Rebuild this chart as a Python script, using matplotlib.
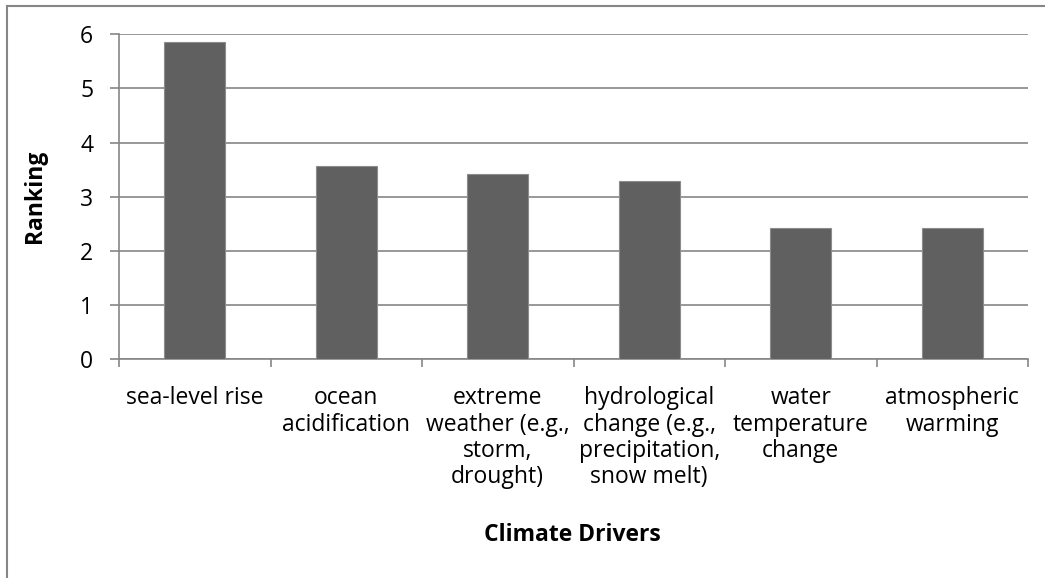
import matplotlib
matplotlib.use("Agg")
import matplotlib.pyplot as plt
from matplotlib.lines import Line2D

categories = [
    "sea-level rise",
    "ocean\nacidification",
    "extreme\nweather (e.g.,\nstorm,\ndrought)",
    "hydrological\nchange (e.g.,\nprecipitation,\nsnow melt)",
    "water\ntemperature\nchange",
    "atmospheric\nwarming",
]
values = [5.86, 3.57, 3.43, 3.29, 2.43, 2.43]
yticks = [0, 1, 2, 3, 4, 5, 6]

plt.rcParams['font.family'] = ['Open Sans', 'DejaVu Sans']

W, H = 1045, 578
FS = 16.5
fig = plt.figure(figsize=(W / 100, H / 100), dpi=100)
ax = fig.add_axes([119 / W, 1 - 359.3 / H, (1028 - 119) / W, (359.3 - 34.3) / H])

grey = "#868686"
x = list(range(len(categories)))
ax.bar(x, values, width=0.4, color="#606060", edgecolor="#8c8c8c", linewidth=0.8, zorder=3)

ax.set_xlim(-0.5, len(categories) - 0.5)
ax.set_ylim(0, 6)
ax.set_yticks(yticks)
ax.set_yticklabels([str(t) for t in yticks], fontsize=FS, color="#000000")
ax.yaxis.grid(True, color=grey, linewidth=1.2, zorder=0)
ax.set_axisbelow(True)

# category ticks at boundaries
ax.set_xticks([i - 0.5 for i in range(len(categories) + 1)])
ax.set_xticklabels([])
ax.set_xticks(x, minor=True)
ax.set_xticklabels(categories, minor=True, fontsize=FS, linespacing=1.12, ha="center", va="top")
ax.tick_params(axis="x", which="minor", length=0, pad=19.5)
ax.tick_params(axis="x", which="major", length=6, color=grey, width=1.2)
ax.tick_params(axis="y", length=6.5, color=grey, width=1.2, pad=12)

for s in ["top", "right"]:
    ax.spines[s].set_visible(False)
for s in ["left", "bottom"]:
    ax.spines[s].set_color(grey)
    ax.spines[s].set_linewidth(1.2)

ax.set_ylabel("Ranking", fontsize=FS, fontweight="bold", labelpad=24)
fig.text(572.5 / W, 1 - 535 / H, "Climate Drivers", fontsize=FS, fontweight="bold",
         ha="center", va="center")

# chart frame (left and top edges visible)
fig.add_artist(Line2D([6.5 / W, 6.5 / W], [0, 1 - 5.5 / H], transform=fig.transFigure, color=grey, linewidth=1.5))
fig.add_artist(Line2D([6.5 / W, 1], [1 - 5.5 / H, 1 - 5.5 / H], transform=fig.transFigure, color=grey, linewidth=1.5))

fig.savefig("out.png", dpi=100)
